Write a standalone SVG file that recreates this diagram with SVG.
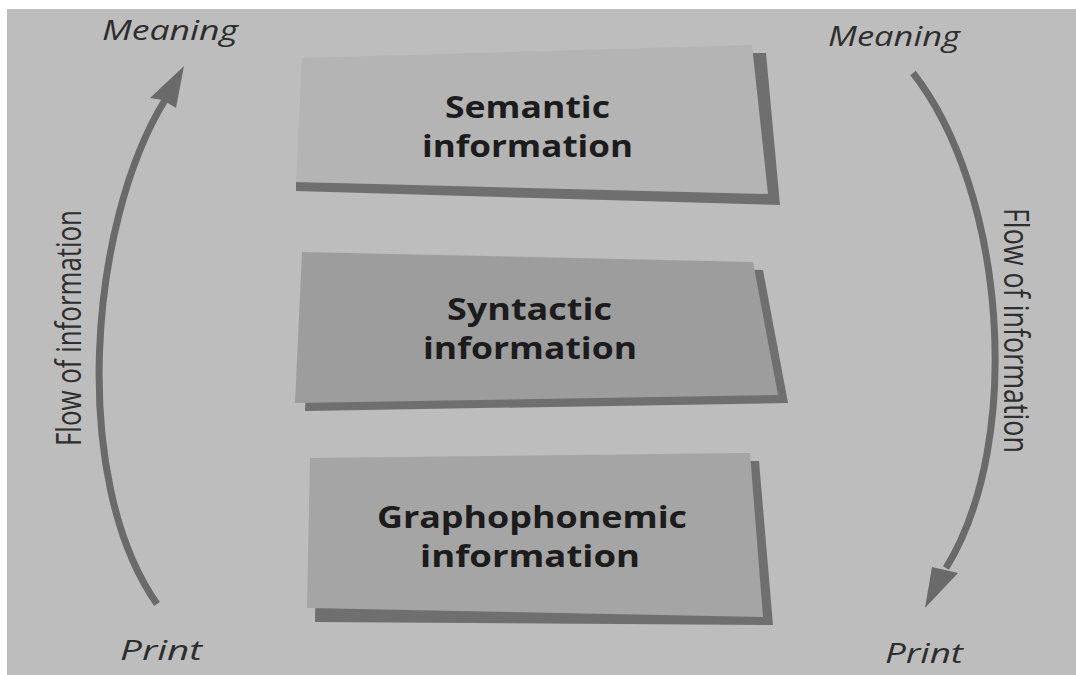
<svg xmlns="http://www.w3.org/2000/svg" width="1076" height="675" viewBox="0 0 1076 675">
<style>
.bg{fill:#bdbdbd}
.shadow{fill:#6f6f6f}
.lbl{font-family:"Open Sans","Noto Sans","DejaVu Sans",sans-serif;font-weight:700;font-size:31px;fill:#1c1c1c}
.it{font-family:"Open Sans","Noto Sans","DejaVu Sans",sans-serif;font-style:italic;font-size:28px;fill:#2e2e2e}
.flow{font-family:"Open Sans","Noto Sans","DejaVu Sans",sans-serif;font-size:35px;fill:#2e2e2e}
.arc{fill:none;stroke:#6a6a6a;stroke-width:7;stroke-linecap:butt}
.head{fill:#6a6a6a}
</style>
<rect width="1076" height="675" fill="#ffffff"/>
<rect class="bg" x="7" y="9" width="1069" height="666"/>

<g id="semantic">
<polygon class="shadow" points="752,53 766,53 780,205 296,191 296,182 760,186"/>
<polygon fill="#b4b4b4" points="302,58 752,45 768,194 296,182"/>
<text class="lbl" x="445" y="118" textLength="165" lengthAdjust="spacingAndGlyphs">Semantic</text>
<text class="lbl" x="422" y="157" textLength="211" lengthAdjust="spacingAndGlyphs">information</text>
</g>

<g id="syntactic">
<polygon class="shadow" points="312,260 763,270 788,403 305,411"/>
<polygon fill="#9d9d9d" points="302,252 753,262 778,395 295,403"/>
<text class="lbl" x="447" y="320" textLength="165" lengthAdjust="spacingAndGlyphs">Syntactic</text>
<text class="lbl" x="423" y="359" textLength="214" lengthAdjust="spacingAndGlyphs">information</text>
</g>

<g id="graphophonemic">
<polygon class="shadow" points="318,467 759,461 773,625 315,622"/>
<polygon fill="#a5a5a5" points="310,458 750,453 763,617 307,608"/>
<text class="lbl" x="377" y="528" textLength="310" lengthAdjust="spacingAndGlyphs">Graphophonemic</text>
<text class="lbl" x="420" y="567" textLength="220" lengthAdjust="spacingAndGlyphs">information</text>
</g>

<g id="connectors">
<path class="arc" d="M157,604 C70,480 88,225 165,100"/>
<polygon class="head" points="184,66 176,108 163,100 150,98"/>
<path class="arc" d="M913,73 C1005,190 1025,440 946,568"/>
<polygon class="head" points="925,608 932,567 945,570 958,573"/>
</g>

<g id="labels">
<text class="it" x="102" y="40" textLength="136" lengthAdjust="spacingAndGlyphs">Meaning</text>
<text class="it" x="828" y="46" textLength="132" lengthAdjust="spacingAndGlyphs">Meaning</text>
<text class="it" x="120" y="660" textLength="82" lengthAdjust="spacingAndGlyphs">Print</text>
<text class="it" x="885" y="663" textLength="78" lengthAdjust="spacingAndGlyphs">Print</text>
<text class="flow" transform="translate(81,446) rotate(-90)" x="0" y="0" textLength="236" lengthAdjust="spacingAndGlyphs">Flow of information</text>
<text class="flow" transform="translate(1004,208) rotate(90)" x="0" y="0" textLength="245" lengthAdjust="spacingAndGlyphs">Flow of information</text>
</g>
</svg>
